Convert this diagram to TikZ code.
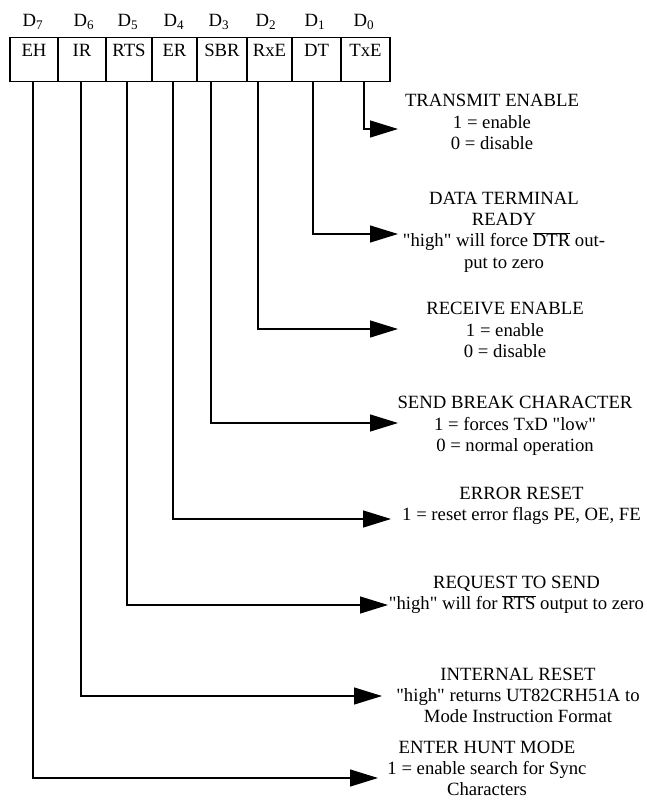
\documentclass[tikz,border=0pt]{standalone}
\usepackage{fontspec}
\setmainfont{Liberation Serif}
\usetikzlibrary{arrows.meta}
\newcommand\ovl[1]{$\overline{\hbox{#1}}$}
\font\qf="Liberation Serif" at 18.7pt
\newcommand\dq{{\qf\char34}}
\begin{document}
\begin{tikzpicture}[x=1pt,y=-1pt,
  every node/.style={inner sep=0pt,outer sep=0pt,font=\fontsize{18.7}{21.3}\selectfont},
  cell/.style={draw,line width=1.6pt,minimum height=44pt,anchor=north west},
  celltext/.style={anchor=base},
  bitlbl/.style={anchor=base},
  desc/.style={anchor=north,align=center},
  conn/.style={line width=1.3pt,-{Triangle[length=28pt,width=17pt]}}]
\useasboundingbox (0,0) rectangle (647,805);
% register cells
\node[cell,minimum width=48pt] (cEH)  at (10,37.5) {};
\node[cell,minimum width=48pt] (cIR)  at (58,37.5) {};
\node[cell,minimum width=46pt] (cRTS) at (106,37.5) {};
\node[cell,minimum width=45pt] (cER)  at (152,37.5) {};
\node[cell,minimum width=50pt] (cSBR) at (197,37.5) {};
\node[cell,minimum width=45pt] (cRxE) at (247,37.5) {};
\node[cell,minimum width=49pt] (cDT)  at (292,37.5) {};
\node[cell,minimum width=49pt] (cTxE) at (341,37.5) {};
\node[celltext] (tEH)  at (34,56.5) {EH};
\node[celltext] (tIR)  at (82,56.5) {IR};
\node[celltext] (tRTS) at (129,56.5) {RTS};
\node[celltext] (tER)  at (174.5,56.5) {ER};
\node[celltext] (tSBR) at (222,56.5) {SBR};
\node[celltext] (tRxE) at (269.5,56.5) {RxE};
\node[celltext] (tDT)  at (316.5,56.5) {DT};
\node[celltext] (tTxE) at (365.5,56.5) {TxE};
% bit labels
\node[bitlbl] (d7) at (33,26.5) {D\textsubscript{7}};
\node[bitlbl] (d6) at (84,26.5) {D\textsubscript{6}};
\node[bitlbl] (d5) at (128,26.5) {D\textsubscript{5}};
\node[bitlbl] (d4) at (174,26.5) {D\textsubscript{4}};
\node[bitlbl] (d3) at (219,26.5) {D\textsubscript{3}};
\node[bitlbl] (d2) at (266,26.5) {D\textsubscript{2}};
\node[bitlbl] (d1) at (315,26.5) {D\textsubscript{1}};
\node[bitlbl] (d0) at (364,26.5) {D\textsubscript{0}};
% connector start points (bottom of register)
\coordinate (sEH)  at (33,81.5);
\coordinate (sIR)  at (81,81.5);
\coordinate (sRTS) at (127,81.5);
\coordinate (sER)  at (173,81.5);
\coordinate (sSBR) at (211,81.5);
\coordinate (sRxE) at (258,81.5);
\coordinate (sDT)  at (313,81.5);
\coordinate (sTxE) at (364,81.5);
% arrow tips
\coordinate (eTxE) at (398,129);
\coordinate (eDT)  at (398,234);
\coordinate (eRxE) at (398,329);
\coordinate (eSBR) at (398,423);
\coordinate (eER)  at (391,519);
\coordinate (eRTS) at (388,605);
\coordinate (eIR)  at (382,696);
\coordinate (eEH)  at (378,778);
\draw[conn] (sTxE) |- (eTxE);
\draw[conn] (sDT)  |- (eDT);
\draw[conn] (sRxE) |- (eRxE);
\draw[conn] (sSBR) |- (eSBR);
\draw[conn] (sER)  |- (eER);
\draw[conn] (sRTS) |- (eRTS);
\draw[conn] (sIR)  |- (eIR);
\draw[conn] (sEH)  |- (eEH);
% descriptions
\node[desc] (dTxE) at (492,94.5) {TRANSMIT ENABLE\\1 = enable\\0 = disable};
\node[desc] (dDT)  at (504,192) {DATA TERMINAL\\READY\\\dq high\dq{} will force \ovl{DTR} out-\\put to zero};
\node[desc] (dRxE) at (505,302.5) {RECEIVE ENABLE\\1 = enable\\0 = disable};
\node[desc] (dSBR) at (515,396.5) {SEND BREAK CHARACTER\\1 = forces TxD \dq low\dq\\0 = normal operation};
\node[desc] (dER)  at (521.5,487) {ERROR RESET\\1 = reset error flags PE, OE, FE};
\node[desc] (dRTS) at (516.5,576) {REQUEST TO SEND\\\dq high\dq{} will for \ovl{RTS} output to zero};
\node[desc] (dIR)  at (518,668) {INTERNAL RESET\\\dq high\dq{} returns UT82CRH51A to\\Mode Instruction Format};
\node[desc] (dEH)  at (487,741) {ENTER HUNT MODE\\1 = enable search for Sync\\Characters};
\end{tikzpicture}
\end{document}
